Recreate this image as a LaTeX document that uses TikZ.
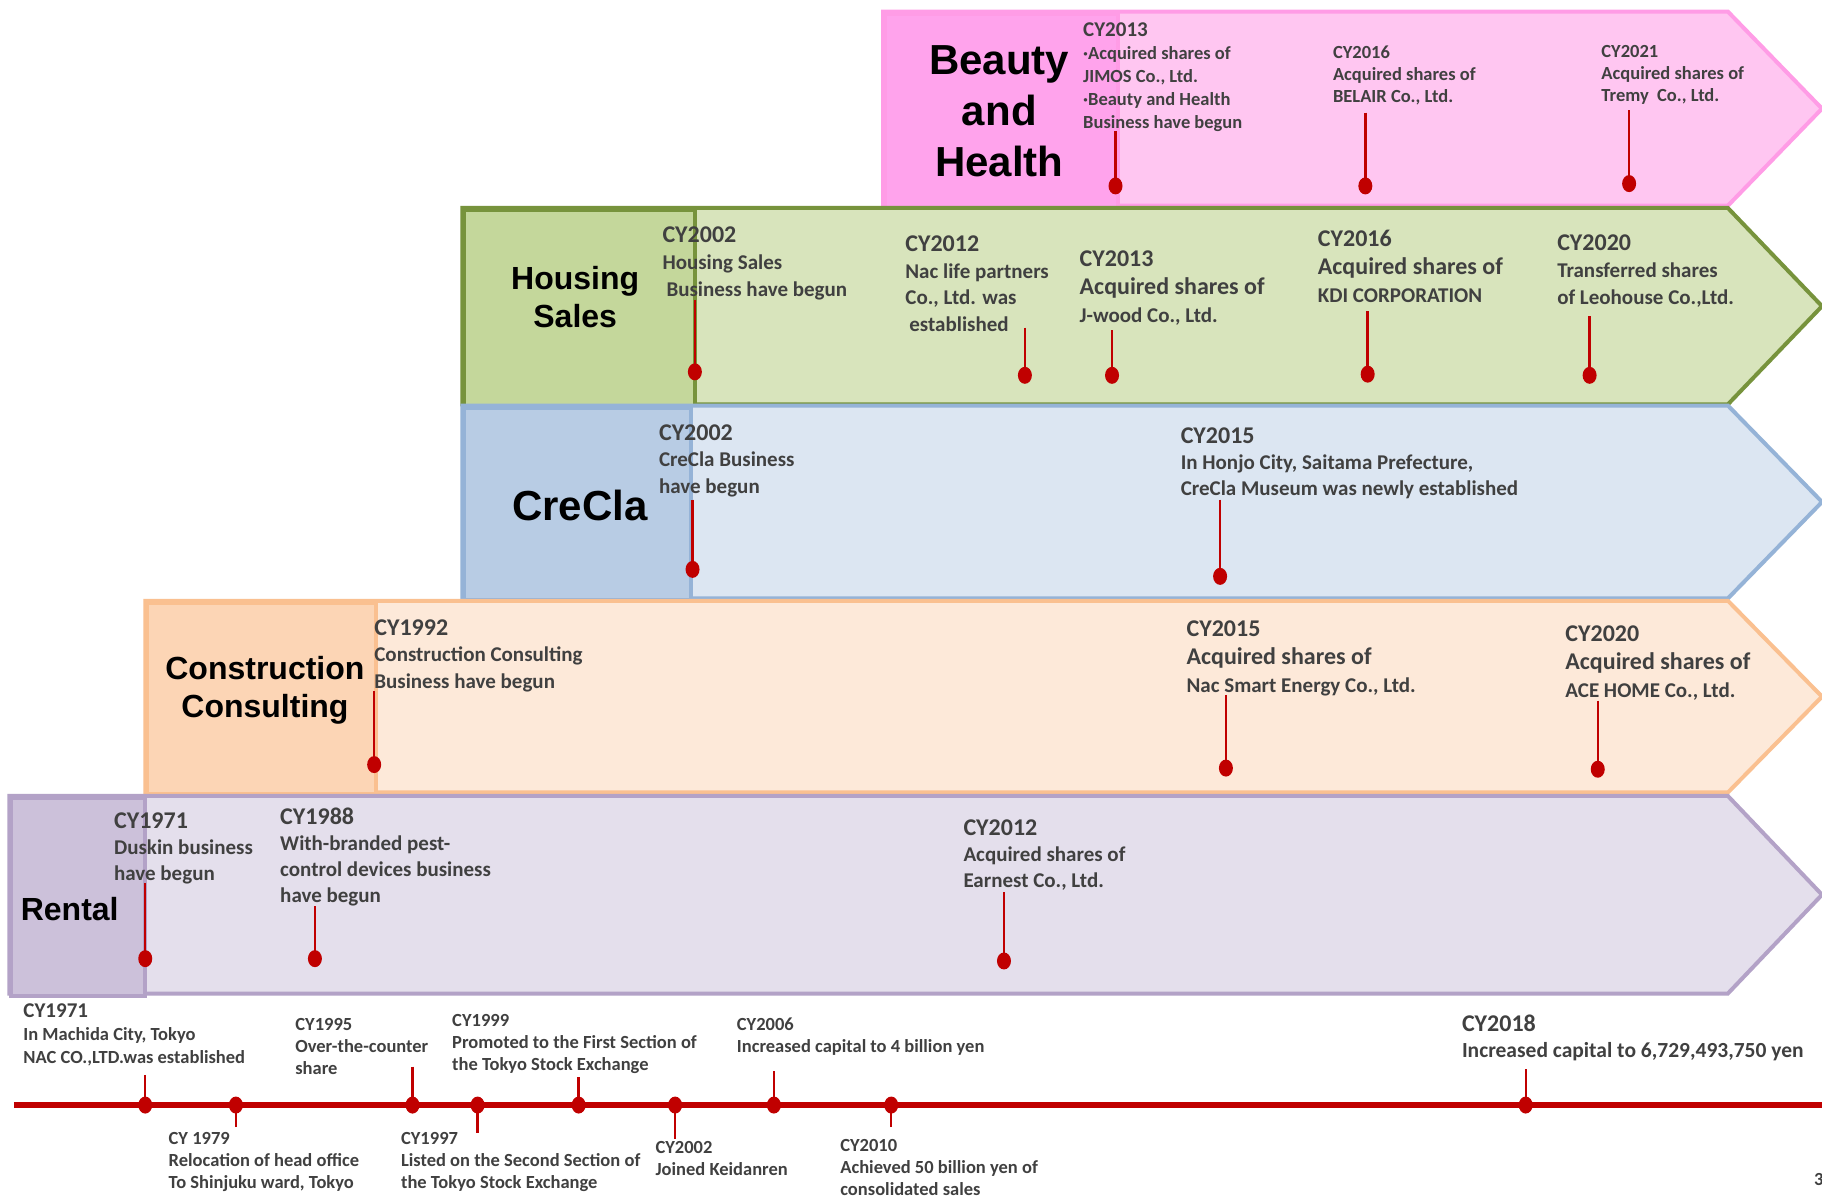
\documentclass[tikz,border=0pt]{standalone}
\usepackage{fontspec}
\setmainfont{Carlito}
\newfontfamily\arialfont{Liberation Sans}
\usetikzlibrary{shapes.geometric}
\definecolor{txtgray}{HTML}{404040}
\definecolor{tlred}{HTML}{C00000}
\definecolor{bhB}{HTML}{FF9CE6}\definecolor{bhL}{HTML}{FFA3EC}\definecolor{bhF}{HTML}{FFC6F1}
\definecolor{hsB}{HTML}{77933C}\definecolor{hsL}{HTML}{C4D79B}\definecolor{hsF}{HTML}{D8E4BC}
\definecolor{ccB}{HTML}{95B3D7}\definecolor{ccL}{HTML}{B8CCE4}\definecolor{ccF}{HTML}{DCE6F2}
\definecolor{coB}{HTML}{FAC090}\definecolor{coL}{HTML}{FCD5B5}\definecolor{coF}{HTML}{FDE9D9}
\definecolor{reB}{HTML}{B3A2C7}\definecolor{reL}{HTML}{CCC1DA}\definecolor{reF}{HTML}{E4DFEC}
\newcommand\fsBig{\fontsize{24}{28}\selectfont}
\newcommand\fsMid{\fontsize{21}{26}\selectfont}
\newcommand\fsSml{\fontsize{18.5}{22}\selectfont}
% band: name, left, right of label, top, bottom, border, label fill, body fill
\newcommand\bandshape[8]{%
  \path[draw=#6, fill=#8, line width=4pt, line join=miter]
    (#2,#4) -- (1487,#4) -- (1568,{(#4+#5)/2}) -- (1487,#5) -- (#2,#5) -- cycle;
  \node[draw=#6, fill=#7, line width=4pt, inner sep=0pt, anchor=north west,
        minimum width={(#3-#2)*1.162pt}, minimum height={(#5-#4)*1.162pt}] (#1) at (#2,#4) {};}
\newcommand\mstone[4]{%
  \coordinate (#1t) at (#2,#3);
  \node[dot] (#1) at (#2,#4) {};
  \draw[tick] (#1t) -- (#1.center);}
\begin{document}
\begin{tikzpicture}[x=1.162pt,y=-1.162pt,
  lab/.style={font=\arialfont\bfseries, text=black, align=center, inner sep=0pt},
  ev/.style={inner sep=0pt, anchor=north west, align=left, text=txtgray},
  tick/.style={draw=tlred, line width=2.4pt},
  dot/.style={ellipse, fill=tlred, inner sep=0pt, minimum width=14pt, minimum height=17pt},
  tdot/.style={ellipse, fill=tlred, inner sep=0pt, minimum width=14pt, minimum height=19pt}]
\useasboundingbox (0,0) rectangle (1568,1029);
\fill[white] (0,0) rectangle (1568,1029);

% ---------- bands ----------
\bandshape{bhbox}{760}{960}{10}{177}{bhB}{bhL}{bhF}
\bandshape{hsbox}{398}{596}{179}{348}{hsB}{hsL}{hsF}
\bandshape{ccbox}{398}{593}{349}{515}{ccB}{ccL}{ccF}
\bandshape{cobox}{125}{322}{517}{682}{coB}{coL}{coF}
\bandshape{rebox}{8}{123}{685}{855}{reB}{reL}{reF}

% ---------- band labels ----------
\node[lab, font=\arialfont\bfseries\fontsize{42}{51}\selectfont] (bhlab) at (860,96) {Beauty\\and\\Health};
\node[lab, font=\arialfont\bfseries\fontsize{32}{38}\selectfont] (hslab) at (495,256) {Housing\\Sales};
\node[lab, font=\arialfont\bfseries\fontsize{42}{51}\selectfont] (cclab) at (499,435) {CreCla};
\node[lab, font=\arialfont\bfseries\fontsize{32}{38}\selectfont] (colab) at (228,594) {Construction\\Consulting};
\node[lab, font=\arialfont\bfseries\fontsize{32}{38}\selectfont] (relab) at (60,782) {Rental};

% ---------- Beauty and Health events ----------
\node[ev, font={\fontsize{18.5}{23}\selectfont\bfseries}] (b13) at (932,19) {{\fsMid CY2013}\\·Acquired shares of\\JIMOS Co., Ltd.\\·Beauty and Health\\Business have begun};
\node[ev, font={\fontsize{18.5}{22}\selectfont\bfseries}] (b16) at (1147,39) {CY2016\\Acquired shares of\\BELAIR Co., Ltd.};
\node[ev, font={\fontsize{18.5}{22}\selectfont\bfseries}] (b21) at (1378,39) {CY2021\\Acquired shares of\\Tremy\ \ Co., Ltd.};
\mstone{mb13}{960}{113}{160}
\mstone{mb16}{1175}{97}{160}
\mstone{mb21}{1402}{95}{158}

% ---------- Housing Sales events ----------
\node[ev, font={\fontsize{21}{27}\selectfont\bfseries}] (h02) at (570,195) {{\fsBig CY2002}\\Housing Sales\\\hspace{4pt}Business have begun};
\node[ev, font={\fontsize{21}{26.4}\selectfont\bfseries}] (h12) at (779,203) {{\fsBig CY2012}\\Nac life partners\\Co., Ltd. was\\\hspace{4pt}established};
\node[ev, font={\fontsize{21}{28}\selectfont\bfseries}] (h13) at (929,216) {{\fsBig CY2013}\\{\fsBig Acquired shares of}\\J-wood Co., Ltd.};
\node[ev, font={\fontsize{21}{28}\selectfont\bfseries}] (h16) at (1134,198) {{\fsBig CY2016}\\{\fsBig Acquired shares of}\\KDI CORPORATION};
\node[ev, font={\fontsize{21}{26.7}\selectfont\bfseries}] (h20) at (1340,202) {{\fsBig CY2020}\\Transferred shares\\of Leohouse Co.,Ltd.};
\mstone{mh02}{598}{258}{320}
\mstone{mh12}{882}{282}{323}
\mstone{mh13}{957}{284}{323}
\mstone{mh16}{1177}{268}{322}
\mstone{mh20}{1368}{272}{323}

% ---------- CreCla events ----------
\node[ev, font={\fontsize{21}{26.7}\selectfont\bfseries}] (c02) at (567,365) {{\fsBig CY2002}\\CreCla Business\\have begun};
\node[ev, font={\fontsize{21}{26}\selectfont\bfseries}] (c15) at (1016,368) {{\fsBig CY2015}\\In Honjo City, Saitama Prefecture,\\CreCla Museum was newly established};
\mstone{mc02}{596}{430}{490}
\mstone{mc15}{1050}{430}{496}

% ---------- Construction Consulting events ----------
\node[ev, font={\fontsize{21}{26.7}\selectfont\bfseries}] (k92) at (322,533) {{\fsBig CY1992}\\Construction Consulting\\Business have begun};
\node[ev, font={\fontsize{21}{28}\selectfont\bfseries}] (k15) at (1021,534) {{\fsBig CY2015}\\{\fsBig Acquired shares of}\\Nac Smart Energy Co., Ltd.};
\node[ev, font={\fontsize{21}{28}\selectfont\bfseries}] (k20) at (1347,538) {{\fsBig CY2020}\\{\fsBig Acquired shares of}\\ACE HOME Co., Ltd.};
\mstone{mk92}{322}{595}{658}
\mstone{mk15}{1055}{598}{661}
\mstone{mk20}{1375}{603}{662}

% ---------- Rental events ----------
\node[ev, font={\fontsize{21}{26}\selectfont\bfseries}] (r71) at (98,699) {{\fsBig CY1971}\\Duskin business\\have begun};
\node[ev, font={\fontsize{21}{26}\selectfont\bfseries}] (r88) at (241,695) {{\fsBig CY1988}\\With-branded pest-\\control devices business\\have begun};
\node[ev, font={\fontsize{21}{26}\selectfont\bfseries}] (r12) at (829,705) {{\fsBig CY2012}\\Acquired shares of\\Earnest Co., Ltd.};
\mstone{mr71}{125}{760}{825}
\mstone{mr88}{271}{780}{825}
\mstone{mr12}{864}{768}{827}

% ---------- corporate timeline ----------
\coordinate (tlA) at (12,951);
\coordinate (tlB) at (1568,951);
\draw[draw=tlred, line width=6.5pt] (tlA) -- (tlB);

\node[ev, font={\fontsize{18.5}{23}\selectfont\bfseries}] (t71) at (20,864) {{\fsMid CY1971}\\In Machida City, Tokyo\\NAC CO.,LTD.was established};
\node[ev, font={\fontsize{18.5}{22}\selectfont\bfseries}] (t95) at (254,876) {CY1995\\Over-the-counter\\share};
\node[ev, font={\fontsize{18.5}{22}\selectfont\bfseries}] (t99) at (389,873) {CY1999\\Promoted to the First Section of\\the Tokyo Stock Exchange};
\node[ev, font={\fontsize{18.5}{22}\selectfont\bfseries}] (t06) at (634,876) {CY2006\\Increased capital to 4 billion yen};
\node[ev, font={\fontsize{21.5}{26.7}\selectfont\bfseries}] (t18) at (1258,873) {{\fsBig CY2018}\\Increased capital to 6,729,493,750 yen};
\node[ev, font={\fontsize{18.5}{22}\selectfont\bfseries}] (t79) at (145,974) {CY 1979\\Relocation of head office\\To Shinjuku ward, Tokyo};
\node[ev, font={\fontsize{18.5}{22}\selectfont\bfseries}] (t97) at (345,974) {CY1997\\Listed on the Second Section of\\the Tokyo Stock Exchange};
\node[ev, font={\fontsize{18.5}{22}\selectfont\bfseries}] (t02) at (564,982) {CY2002\\Joined Keidanren};
\node[ev, font={\fontsize{18.5}{22}\selectfont\bfseries}] (t10) at (723,980) {CY2010\\Achieved 50 billion yen of\\consolidated sales};

\mstone{mt71}{125}{925}{951}
\mstone{mt79}{203}{970}{951}
\mstone{mt95}{355}{918}{951}
\mstone{mt97}{411}{975}{951}
\mstone{mt99}{498}{927}{951}
\mstone{mt02}{581}{980}{951}
\mstone{mt06}{666}{922}{951}
\mstone{mt10}{767}{970}{951}
\mstone{mt18}{1313}{920}{951}

\node[ev, anchor=west, font={\fontsize{18.5}{22}\selectfont\bfseries}] (pgno) at (1561,1015) {3};
\end{tikzpicture}
\end{document}
